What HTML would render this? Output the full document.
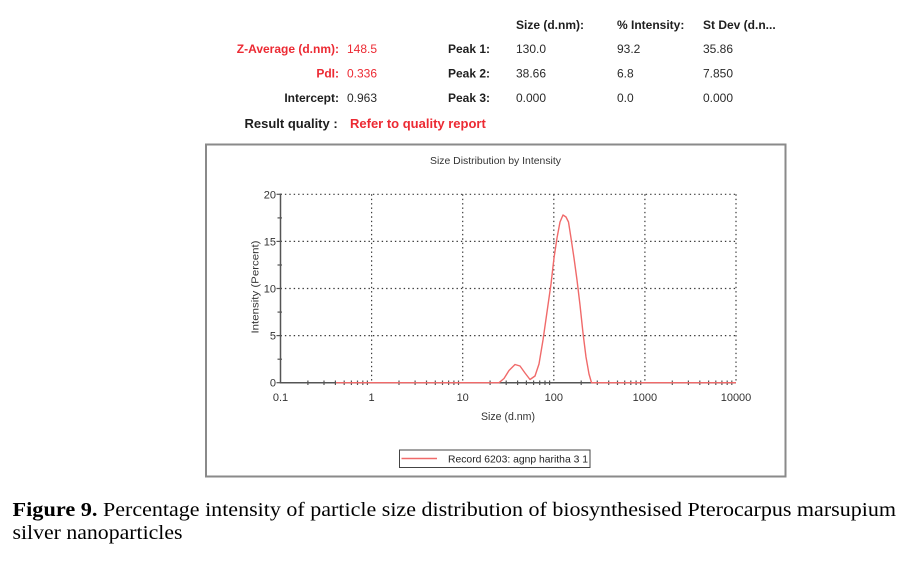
<!DOCTYPE html>
<html>
<head>
<meta charset="utf-8">
<style>
  html,body{margin:0;padding:0;background:#fff;}
  svg{display:block;}
  .b{font-family:"Liberation Sans",Arial,sans-serif;font-weight:bold;font-size:12px;fill:#1e1e1e;}
  .r{font-family:"Liberation Sans",Arial,sans-serif;font-size:12px;fill:#2a2a2a;}
  .red{fill:#ec2a33;}
  .ax{font-family:"Liberation Sans",Arial,sans-serif;font-size:11px;fill:#333;}
  .cap{font-family:"Liberation Serif","Times New Roman",serif;font-size:19.5px;fill:#000;}
</style>
</head>
<body>
<svg width="906" height="567" viewBox="0 0 906 567" xmlns="http://www.w3.org/2000/svg">
  <rect width="906" height="567" fill="#fff"/>

  <!-- Header table -->
  <text class="b" x="516" y="29">Size (d.nm):</text>
  <text class="b" x="617" y="29">% Intensity:</text>
  <text class="b" x="703" y="29">St Dev (d.n...</text>

  <text class="b red" x="339" y="53" text-anchor="end">Z-Average (d.nm):</text>
  <text class="r red" x="347" y="53">148.5</text>
  <text class="b" x="448" y="53">Peak 1:</text>
  <text class="r" x="516" y="53">130.0</text>
  <text class="r" x="617" y="53">93.2</text>
  <text class="r" x="703" y="53">35.86</text>

  <text class="b red" x="339" y="77.5" text-anchor="end">PdI:</text>
  <text class="r red" x="347" y="77.5">0.336</text>
  <text class="b" x="448" y="77.5">Peak 2:</text>
  <text class="r" x="516" y="77.5">38.66</text>
  <text class="r" x="617" y="77.5">6.8</text>
  <text class="r" x="703" y="77.5">7.850</text>

  <text class="b" x="339" y="102" text-anchor="end">Intercept:</text>
  <text class="r" x="347" y="102">0.963</text>
  <text class="b" x="448" y="102">Peak 3:</text>
  <text class="r" x="516" y="102">0.000</text>
  <text class="r" x="617" y="102">0.0</text>
  <text class="r" x="703" y="102">0.000</text>

  <text class="b" x="244.5" y="128" style="font-size:13px">Result quality :</text>
  <text class="b red" x="350" y="128" style="font-size:13px">Refer to quality report</text>

  <!-- Chart box -->
  <rect x="206" y="144.5" width="579.5" height="332" fill="#fff" stroke="#8a8a8a" stroke-width="2"/>

  <text x="495.5" y="164" text-anchor="middle" style="font-family:'Liberation Sans',Arial,sans-serif;font-size:10.5px;fill:#333" textLength="131" lengthAdjust="spacingAndGlyphs">Size Distribution by Intensity</text>

  <!-- grid -->
  <g stroke="#3a3a3a" stroke-width="1.2" stroke-dasharray="1.4 3" fill="none">
    <line x1="280.5" y1="194.3" x2="736" y2="194.3"/>
    <line x1="280.5" y1="241.4" x2="736" y2="241.4"/>
    <line x1="280.5" y1="288.5" x2="736" y2="288.5"/>
    <line x1="280.5" y1="335.6" x2="736" y2="335.6"/>
    <line x1="371.6" y1="194.3" x2="371.6" y2="382.7"/>
    <line x1="462.7" y1="194.3" x2="462.7" y2="382.7"/>
    <line x1="553.8" y1="194.3" x2="553.8" y2="382.7"/>
    <line x1="644.9" y1="194.3" x2="644.9" y2="382.7"/>
    <line x1="736" y1="194.3" x2="736" y2="382.7"/>
  </g>

  <!-- axes -->
  <g stroke="#555" stroke-width="1.5" fill="none">
    <line x1="280.5" y1="193.5" x2="280.5" y2="383.5"/>
    <line x1="280" y1="382.7" x2="736" y2="382.7"/>
  </g>

  <!-- y ticks -->
  <g stroke="#555" stroke-width="1.2">
    <line x1="276.5" y1="194.3" x2="282" y2="194.3"/>
    <line x1="277.5" y1="217.9" x2="282" y2="217.9"/>
    <line x1="276.5" y1="241.4" x2="282" y2="241.4"/>
    <line x1="277.5" y1="265" x2="282" y2="265"/>
    <line x1="276.5" y1="288.5" x2="282" y2="288.5"/>
    <line x1="277.5" y1="312.1" x2="282" y2="312.1"/>
    <line x1="276.5" y1="335.6" x2="282" y2="335.6"/>
    <line x1="277.5" y1="359.2" x2="282" y2="359.2"/>
    <line x1="276.5" y1="382.7" x2="282" y2="382.7"/>
  </g>

  <!-- x minor ticks -->
  <g stroke="#555" stroke-width="1.2">
    <line x1="307.9" y1="380.5" x2="307.9" y2="385"/>
    <line x1="324" y1="380.5" x2="324" y2="385"/>
    <line x1="335.4" y1="380.5" x2="335.4" y2="385"/>
    <line x1="344.2" y1="380.5" x2="344.2" y2="385"/>
    <line x1="351.4" y1="380.5" x2="351.4" y2="385"/>
    <line x1="357.5" y1="380.5" x2="357.5" y2="385"/>
    <line x1="362.8" y1="380.5" x2="362.8" y2="385"/>
    <line x1="367.4" y1="380.5" x2="367.4" y2="385"/>
    <line x1="399" y1="380.5" x2="399" y2="385"/>
    <line x1="415.1" y1="380.5" x2="415.1" y2="385"/>
    <line x1="426.5" y1="380.5" x2="426.5" y2="385"/>
    <line x1="435.3" y1="380.5" x2="435.3" y2="385"/>
    <line x1="442.5" y1="380.5" x2="442.5" y2="385"/>
    <line x1="448.6" y1="380.5" x2="448.6" y2="385"/>
    <line x1="453.9" y1="380.5" x2="453.9" y2="385"/>
    <line x1="458.5" y1="380.5" x2="458.5" y2="385"/>
    <line x1="490.1" y1="380.5" x2="490.1" y2="385"/>
    <line x1="506.2" y1="380.5" x2="506.2" y2="385"/>
    <line x1="517.6" y1="380.5" x2="517.6" y2="385"/>
    <line x1="526.4" y1="380.5" x2="526.4" y2="385"/>
    <line x1="533.6" y1="380.5" x2="533.6" y2="385"/>
    <line x1="539.7" y1="380.5" x2="539.7" y2="385"/>
    <line x1="545" y1="380.5" x2="545" y2="385"/>
    <line x1="549.6" y1="380.5" x2="549.6" y2="385"/>
    <line x1="581.2" y1="380.5" x2="581.2" y2="385"/>
    <line x1="597.3" y1="380.5" x2="597.3" y2="385"/>
    <line x1="608.7" y1="380.5" x2="608.7" y2="385"/>
    <line x1="617.5" y1="380.5" x2="617.5" y2="385"/>
    <line x1="624.7" y1="380.5" x2="624.7" y2="385"/>
    <line x1="630.8" y1="380.5" x2="630.8" y2="385"/>
    <line x1="636.1" y1="380.5" x2="636.1" y2="385"/>
    <line x1="640.7" y1="380.5" x2="640.7" y2="385"/>
    <line x1="672.3" y1="380.5" x2="672.3" y2="385"/>
    <line x1="688.4" y1="380.5" x2="688.4" y2="385"/>
    <line x1="699.8" y1="380.5" x2="699.8" y2="385"/>
    <line x1="708.6" y1="380.5" x2="708.6" y2="385"/>
    <line x1="715.8" y1="380.5" x2="715.8" y2="385"/>
    <line x1="721.9" y1="380.5" x2="721.9" y2="385"/>
    <line x1="727.2" y1="380.5" x2="727.2" y2="385"/>
    <line x1="731.8" y1="380.5" x2="731.8" y2="385"/>
  </g>

  <!-- y tick labels -->
  <g class="ax" text-anchor="end">
    <text x="276" y="198.3">20</text>
    <text x="276" y="245.4">15</text>
    <text x="276" y="292.5">10</text>
    <text x="276" y="339.6">5</text>
    <text x="276" y="386.7">0</text>
  </g>
  <!-- x tick labels -->
  <g class="ax" text-anchor="middle">
    <text x="280.5" y="401">0.1</text>
    <text x="371.6" y="401">1</text>
    <text x="462.7" y="401">10</text>
    <text x="553.8" y="401">100</text>
    <text x="644.9" y="401">1000</text>
    <text x="736" y="401">10000</text>
  </g>

  <text x="508" y="420" text-anchor="middle" style="font-family:'Liberation Sans',Arial,sans-serif;font-size:11px;fill:#333" textLength="54" lengthAdjust="spacingAndGlyphs">Size (d.nm)</text>
  <text transform="translate(258.5,287) rotate(-90)" text-anchor="middle" style="font-family:'Liberation Sans',Arial,sans-serif;font-size:10.5px;fill:#333" textLength="93" lengthAdjust="spacingAndGlyphs">Intensity (Percent)</text>

  <!-- data -->
  <polyline fill="none" stroke="#f06a6a" stroke-width="1.4" stroke-linejoin="round"
    points="336,382.7 499,382.7 504,378.5 509,370.5 515,364.5 520,366 525,373 530,379.5 535,376 539,364 543,340 547,312 551,284 554,258 557,238 560,222 563,215 566,217 568.5,222 571,238 574,258 577,280 580,305 583,333 586,357 589,374 591.5,382.7 736,382.7"/>

  <!-- legend -->
  <rect x="399.5" y="450" width="190.5" height="17.5" fill="#fff" stroke="#444" stroke-width="1"/>
  <line x1="401.5" y1="458.5" x2="437" y2="458.5" stroke="#f06a6a" stroke-width="1.4"/>
  <text x="448" y="462.5" style="font-family:'Liberation Sans',Arial,sans-serif;font-size:10.5px;fill:#222" textLength="140" lengthAdjust="spacingAndGlyphs">Record 6203: agnp haritha 3 1</text>

  <!-- caption -->
  <text class="cap" x="12.5" y="516" style="font-weight:bold" textLength="85" lengthAdjust="spacingAndGlyphs">Figure 9.</text>
  <text class="cap" x="103" y="516" textLength="793" lengthAdjust="spacingAndGlyphs">Percentage intensity of particle size distribution of biosynthesised Pterocarpus marsupium</text>
  <text class="cap" x="12.5" y="539" textLength="170" lengthAdjust="spacingAndGlyphs">silver nanoparticles</text>
</svg>
</body>
</html>
